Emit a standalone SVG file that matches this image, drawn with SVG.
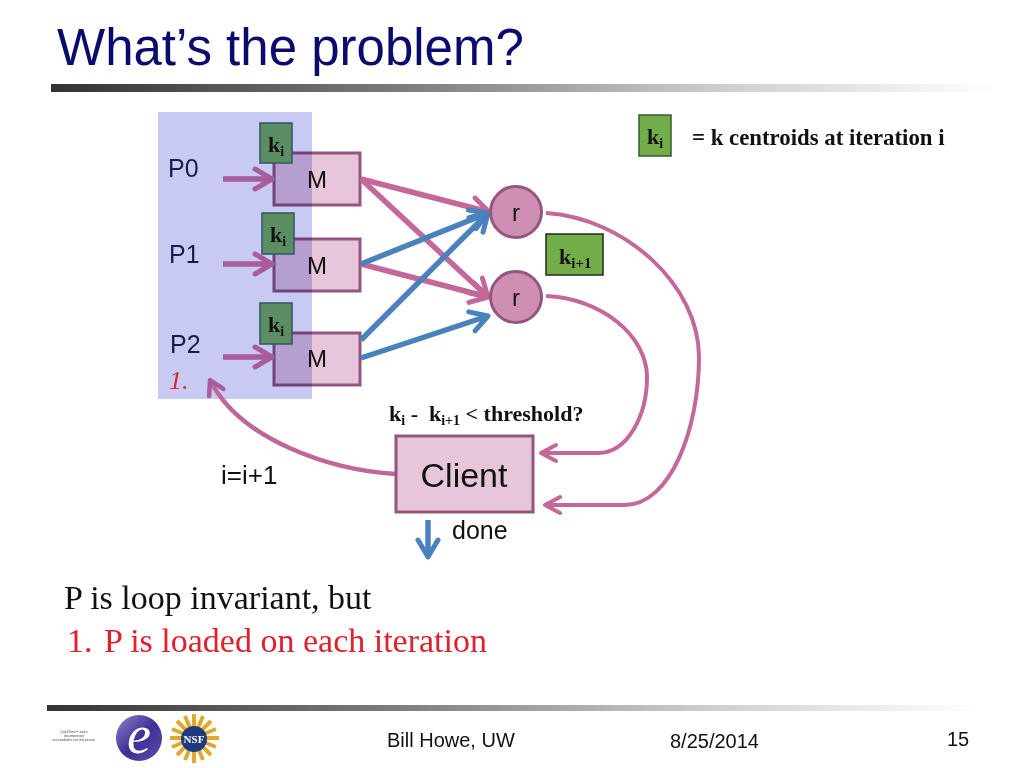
<svg xmlns="http://www.w3.org/2000/svg" width="1024" height="768" viewBox="0 0 1024 768">
<defs>
<linearGradient id="bar" x1="0" x2="1" y1="0" y2="0"><stop offset="0" stop-color="#333"/><stop offset="0.35" stop-color="#777"/><stop offset="0.7" stop-color="#ccc"/><stop offset="1" stop-color="#fff"/></linearGradient>
<linearGradient id="elogo" x1="0" x2="1" y1="0" y2="1"><stop offset="0" stop-color="#8f86cf"/><stop offset="0.5" stop-color="#3f2f96"/><stop offset="1" stop-color="#5a4cab"/></linearGradient>
<marker id="hp" markerUnits="userSpaceOnUse" markerWidth="26" markerHeight="30" refX="21" refY="15" orient="auto"><path d="M4 5 L21 15 L4 25" fill="none" stroke="#c4689a" stroke-width="5" stroke-linecap="round" stroke-linejoin="round"/></marker>
<marker id="hc" markerUnits="userSpaceOnUse" markerWidth="26" markerHeight="30" refX="19" refY="15" orient="auto"><path d="M4 7 L19 15 L4 23" fill="none" stroke="#c4689a" stroke-width="4" stroke-linecap="round" stroke-linejoin="round"/></marker>
<marker id="hm" markerUnits="userSpaceOnUse" markerWidth="26" markerHeight="30" refX="21" refY="15" orient="auto"><path d="M4 5 L21 15 L4 25" fill="none" stroke="#a85c9e" stroke-width="5" stroke-linecap="round" stroke-linejoin="round"/></marker>
<marker id="hl" markerUnits="userSpaceOnUse" markerWidth="26" markerHeight="30" refX="19" refY="15" orient="auto"><path d="M5 7 L19 15 L5 23" fill="none" stroke="#a85c9e" stroke-width="4.5" stroke-linecap="round" stroke-linejoin="round"/></marker>
<marker id="hb" markerUnits="userSpaceOnUse" markerWidth="26" markerHeight="30" refX="21" refY="15" orient="auto"><path d="M4 5 L21 15 L4 25" fill="none" stroke="#4a82bd" stroke-width="5" stroke-linecap="round" stroke-linejoin="round"/></marker>
</defs>
<style>
.sans{font-family:"Liberation Sans",Arial,sans-serif}
.serif{font-family:"Liberation Serif","Times New Roman",serif}
.b{font-weight:bold}
.map{fill:#e8c6da;stroke:#92567f;stroke-width:3}
.red{fill:#cf8fb5;stroke:#92567f;stroke-width:3}
.kd{fill:#5b8f63;stroke:#2f5560;stroke-width:1.5}
.kl{fill:#72ad47;stroke:#3a5a30;stroke-width:1.5}
.cp{fill:none;stroke:#c4689a;stroke-width:5.5;marker-end:url(#hp)}
.cc{fill:none;stroke:#c4689a;stroke-width:4;marker-end:url(#hc)}
.cl{fill:none;stroke:#bf679b;stroke-width:4.5;marker-end:url(#hl)}
.cm{fill:none;stroke:#a85c9e;stroke-width:5.5;marker-end:url(#hm)}
.cb{fill:none;stroke:#4a82bd;stroke-width:5.5;marker-end:url(#hb)}
</style>
<rect width="1024" height="768" fill="#fff"/>
<g id="title">
<text class="sans" x="57" y="65" font-size="51" fill="#0b0b6e">What’s the problem?</text>
<rect x="51" y="84" width="945" height="8" fill="url(#bar)"/>
</g>
<g id="panel"><rect x="158" y="112" width="154" height="287" fill="#8f97ea" fill-opacity="0.5"/></g>
<g id="map0"><rect class="map" x="274" y="153" width="86" height="52" style="mix-blend-mode:multiply"/><text class="sans" x="317" y="188" font-size="24" text-anchor="middle" fill="#111">M</text></g>
<g id="map1"><rect class="map" x="274" y="239" width="86" height="52" style="mix-blend-mode:multiply"/><text class="sans" x="317" y="274" font-size="24" text-anchor="middle" fill="#111">M</text></g>
<g id="map2"><rect class="map" x="274" y="333" width="86" height="52" style="mix-blend-mode:multiply"/><text class="sans" x="317" y="367" font-size="24" text-anchor="middle" fill="#111">M</text></g>
<g id="connectors">
<path class="cp" d="M361 179 L489 212"/>
<path class="cp" d="M361 179 L488 297"/>
<path class="cp" d="M361 264 L488 297"/>
<path class="cb" d="M361 264 L488 213"/>
<path class="cb" d="M361 340 L488 213"/>
<path class="cb" d="M361 358 L488 316"/>
<path class="cm" d="M223 179 L272 179"/>
<path class="cm" d="M223 264 L272 264"/>
<path class="cm" d="M223 357 L272 357"/>
<path class="cc" d="M546 213 C625 218 699 285 699 357 C699 430 670 505 625 505 L545 505"/>
<path class="cc" d="M546 296 C600 298 647 335 647 377 C647 415 628 453 598 453 L541 453"/>
<path class="cl" d="M396 474 C330 470 240 440 210 380"/>
<path class="cb" d="M428 520 L428 557"/>
</g>
<g id="k0"><rect class="kd" x="260" y="123" width="32" height="40"/><text class="serif b" x="268" y="152" font-size="22" fill="#111">k<tspan font-size="14" dy="4">i</tspan></text></g>
<g id="k1"><rect class="kd" x="262" y="213" width="32" height="41"/><text class="serif b" x="270" y="242" font-size="22" fill="#111">k<tspan font-size="14" dy="4">i</tspan></text></g>
<g id="k2"><rect class="kd" x="260" y="303" width="32" height="41"/><text class="serif b" x="268" y="332" font-size="22" fill="#111">k<tspan font-size="14" dy="4">i</tspan></text></g>
<g id="labels">
<text class="sans" x="168" y="177" font-size="25" fill="#1a1a50">P0</text>
<text class="sans" x="169" y="263" font-size="25" fill="#1a1a50">P1</text>
<text class="sans" x="170" y="353" font-size="25" fill="#1a1a50">P2</text>
<text class="serif" x="169" y="389" font-size="26" font-style="italic" fill="#e0202a">1.</text>
<text class="sans" x="221" y="484" font-size="26" fill="#111">i=i+1</text>
<text class="sans" x="452" y="539" font-size="25" fill="#111">done</text>
<text class="serif b" x="389" y="421" font-size="22" fill="#111" xml:space="preserve">k<tspan font-size="14" dy="4">i</tspan><tspan dy="-4"> -  k</tspan><tspan font-size="14" dy="4">i+1</tspan><tspan dy="-4"> &lt; threshold?</tspan></text>
<text class="serif b" x="692" y="145" font-size="22.8" fill="#111">= k centroids at iteration i</text>
<text class="serif" x="64" y="609" font-size="34" fill="#111">P is loop invariant, but</text>
<text class="serif" x="67" y="652" font-size="34" fill="#e0202a">1.</text>
<text class="serif" x="104" y="652" font-size="34" fill="#e0202a">P is loaded on each iteration</text>
</g>
<g id="r0"><circle class="red" cx="516" cy="212" r="25.5"/><text class="sans" x="516" y="221" font-size="24" text-anchor="middle" fill="#111">r</text></g>
<g id="r1"><circle class="red" cx="516" cy="297" r="25.5"/><text class="sans" x="516" y="306" font-size="24" text-anchor="middle" fill="#111">r</text></g>
<g id="knext"><rect class="kl" x="546" y="234" width="57" height="41" style="stroke:#1f2a1a"/><text class="serif b" x="559" y="264" font-size="22" fill="#111">k<tspan font-size="15" dy="4">i+1</tspan></text></g>
<g id="klegend"><rect class="kl" x="639" y="115" width="32" height="41"/><text class="serif b" x="647" y="144" font-size="22" fill="#111">k<tspan font-size="14" dy="4">i</tspan></text></g>
<g id="client"><rect class="map" x="396" y="436" width="137" height="76"/><text class="sans" x="464" y="487" font-size="34" text-anchor="middle" fill="#111">Client</text></g>
<g id="footer">
<rect x="47" y="705" width="930" height="6" fill="url(#bar)"/>
<text class="sans" x="387" y="747" font-size="20" fill="#111">Bill Howe, UW</text>
<text class="sans" x="670" y="748" font-size="20" fill="#111">8/25/2014</text>
<text class="sans" x="947" y="746" font-size="20" fill="#111">15</text>
<text class="sans" font-size="3.2" fill="#444" text-anchor="middle"><tspan x="74" y="733">QuickTime™ and a</tspan><tspan x="74" y="737">decompressor</tspan><tspan x="74" y="741">are needed to see this picture.</tspan></text>
<g id="logoE"><circle cx="139" cy="738" r="23" fill="url(#elogo)"/><text class="serif" x="139" y="753" font-size="54" font-style="italic" text-anchor="middle" fill="#fff">e</text></g>
<g id="logoNSF"><g stroke="#e0a92e" stroke-width="4"><path d="M194 714 V763 M170 738 H219 M177 721 L211 755 M211 721 L177 755 M185 716 L203 760 M203 716 L185 760 M172 729 L216 747 M216 729 L172 747"/></g><circle cx="194" cy="739" r="13" fill="#1d3a80"/><text class="serif b" x="194" y="743" font-size="11" text-anchor="middle" fill="#fff">NSF</text></g>
</g>
</svg>
